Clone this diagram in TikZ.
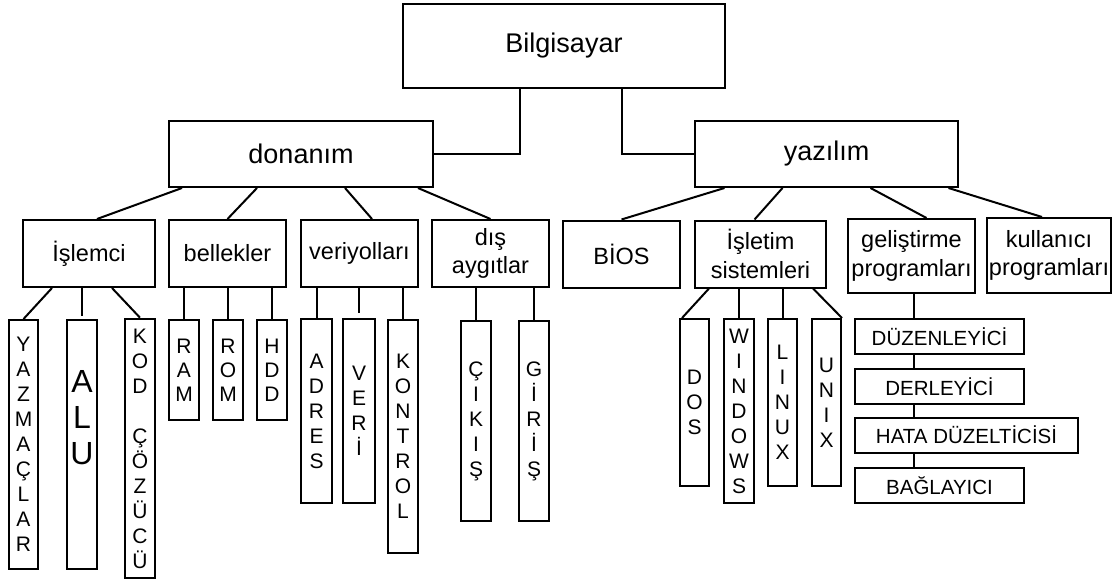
\documentclass[tikz,border=0pt]{standalone}
\usepackage{fontspec}
\setmainfont{Liberation Sans}

\begin{document}
\begin{tikzpicture}[x=1pt, y=-1pt,
  kutu/.style={draw, line width=2pt, inner sep=0pt, align=center},
  ust/.style={kutu, font=\fontsize{27}{32}\selectfont},
  orta/.style={kutu, font=\fontsize{23.5}{28.5}\selectfont},
  dikey/.style={kutu, font=\fontsize{21}{25}\selectfont},
  kisa/.style={dikey, font=\fontsize{21}{24}\selectfont, minimum width=30pt, minimum height=100pt},
  adim/.style={kutu, font=\fontsize{20.5}{24}\selectfont, minimum height=35pt},
  hat/.style={line width=2pt}]

  \useasboundingbox (0,0) rectangle (1113,580);

  \node[ust, minimum width=322pt, minimum height=84pt] (bilgisayar) at (564,46) {Bilgisayar};
  \node[ust, minimum width=264pt, minimum height=66pt] (donanim) at (301,154) {donanım};
  \node[ust, minimum width=263pt, minimum height=66pt] (yazilim) at (826.5,154) {yazılım};

  % donanim tarafi
  \node[orta, minimum width=132pt, minimum height=67pt] (islemci) at (89,253.5) {İşlemci};
  \node[orta, minimum width=117pt, minimum height=67pt] (bellekler) at (227.5,253.5) {bellekler};
  \node[orta, minimum width=117pt, minimum height=67pt] (veriyollari) at (359.5,253.5) {veriyolları};
  \node[orta, minimum width=117pt, minimum height=67pt] (disaygitlar) at (490.5,253.5) {dış\\aygıtlar};

  % yazilim tarafi
  \node[orta, minimum width=117pt, minimum height=67pt] (bios) at (621.5,254) {BİOS};
  \node[orta, minimum width=131pt, minimum height=67pt] (isletim) at (760.5,254) {İşletim\\sistemleri};
  \node[orta, minimum width=127pt, minimum height=74pt] (gelistirme) at (911.5,256) {geliştirme\\programları};
  \node[orta, minimum width=124pt, minimum height=75pt] (kullanici) at (1049,255.5) {kullanıcı\\programları};

  \node[dikey, minimum width=29pt, minimum height=249pt] (yazmaclar) at (23.5,444.5) {Y\\A\\Z\\M\\A\\Ç\\L\\A\\R};
  \node[kutu, minimum width=30pt, minimum height=249pt,
        label={[font=\fontsize{32}{36}\selectfont, align=center, yshift=27pt]center:{A\\L\\U}}] (alu) at (82,444.5) {};
  \node[dikey, line width=2.6pt, minimum width=30pt, minimum height=259pt] (kod) at (140,448.5) {K\\O\\D\\~\\Ç\\Ö\\Z\\Ü\\C\\Ü};

  \node[kisa] (ram) at (184,370) {R\\A\\M};
  \node[kisa] (rom) at (228,370) {R\\O\\M};
  \node[kisa] (hdd) at (272,370) {H\\D\\D};

  \node[dikey, minimum width=31pt, minimum height=184pt] (adres) at (316.5,411) {A\\D\\R\\E\\S};
  \node[dikey, minimum width=32pt, minimum height=184pt] (veri) at (359,411) {V\\E\\R\\İ};
  \node[dikey, minimum width=30pt, minimum height=233pt] (kontrol) at (403,436.5) {K\\O\\N\\T\\R\\O\\L};

  \node[dikey, minimum width=30pt, minimum height=200pt] (cikis) at (476,421) {Ç\\I\\K\\I\\Ş};
  \node[dikey, minimum width=30pt, minimum height=200pt] (giris) at (534,421) {G\\İ\\R\\İ\\Ş};

  \node[dikey, minimum width=29pt, minimum height=167pt] (dos) at (694.5,402.5) {D\\O\\S};
  \node[dikey, minimum width=30pt, minimum height=184pt] (windows) at (739,411) {W\\I\\N\\D\\O\\W\\S};
  \node[dikey, minimum width=29pt, minimum height=167pt] (linux) at (782.5,402.5) {L\\I\\N\\U\\X};
  \node[dikey, minimum width=29pt, minimum height=167pt] (unix) at (826.5,402.5) {U\\N\\I\\X};

  \node[adim, minimum width=169pt] (duzenleyici) at (939.5,336.5) {DÜZENLEYİCİ};
  \node[adim, minimum width=169pt] (derleyici) at (939.5,386.5) {DERLEYİCİ};
  \node[adim, minimum width=223pt] (hata) at (966.5,435) {HATA DÜZELTİCİSİ};
  \node[adim, minimum width=169pt] (baglayici) at (939.5,485.5) {BAĞLAYICI};

  % baglantilar
  \draw[hat] ([xshift=-44pt]bilgisayar.south) |- (donanim.east);
  \draw[hat] ([xshift=58pt]bilgisayar.south) |- (yazilim.west);

  \draw[hat] ([xshift=-119pt]donanim.south) -- ([xshift=8pt]islemci.north);
  \draw[hat] ([xshift=-44pt]donanim.south) -- (bellekler.north);
  \draw[hat] ([xshift=44pt]donanim.south) -- ([xshift=12.5pt]veriyollari.north);
  \draw[hat] ([xshift=117pt]donanim.south) -- (disaygitlar.north);

  \draw[hat] ([xshift=-102pt]yazilim.south) -- (bios.north);
  \draw[hat] ([xshift=-44pt]yazilim.south) -- ([xshift=-6pt]isletim.north);
  \draw[hat] ([xshift=44pt]yazilim.south) -- ([xshift=15pt]gelistirme.north);
  \draw[hat] ([xshift=122pt]yazilim.south) -- ([xshift=-7pt]kullanici.north);

  \draw[hat] ([xshift=-37pt]islemci.south) -- (yazmaclar.north);
  \draw[hat] (alu.north |- islemci.south) -- ([yshift=3pt]alu.north);
  \draw[hat] ([xshift=23pt]islemci.south) -- (kod.north);

  \draw[hat] (ram.north |- bellekler.south) -- (ram.north);
  \draw[hat] (rom.north |- bellekler.south) -- (rom.north);
  \draw[hat] (hdd.north |- bellekler.south) -- (hdd.north);

  \draw[hat] (adres.north |- veriyollari.south) -- (adres.north);
  \draw[hat] (veri.north |- veriyollari.south) -- ([yshift=5pt]veri.north);
  \draw[hat] (kontrol.north |- veriyollari.south) -- (kontrol.north);

  \draw[hat] (cikis.north |- disaygitlar.south) -- (cikis.north);
  \draw[hat] (giris.north |- disaygitlar.south) -- (giris.north);

  \draw[hat] ([xshift=-51.5pt]isletim.south) -- ([xshift=3pt]dos.north west);
  \draw[hat] (windows.north |- isletim.south) -- (windows.north);
  \draw[hat] (linux.north |- isletim.south) -- (linux.north);
  \draw[hat] ([xshift=52.5pt]isletim.south) -- (unix.north east);

  \coordinate (zincir) at ([xshift=2.5pt]gelistirme.south);
  \draw[hat] (zincir) -- (zincir |- duzenleyici.north);
  \draw[hat] (duzenleyici.south -| zincir) -- (derleyici.north -| zincir);
  \draw[hat] (derleyici.south -| zincir) -- (hata.north -| zincir);
  \draw[hat] (hata.south -| zincir) -- (baglayici.north -| zincir);

\end{tikzpicture}
\end{document}
